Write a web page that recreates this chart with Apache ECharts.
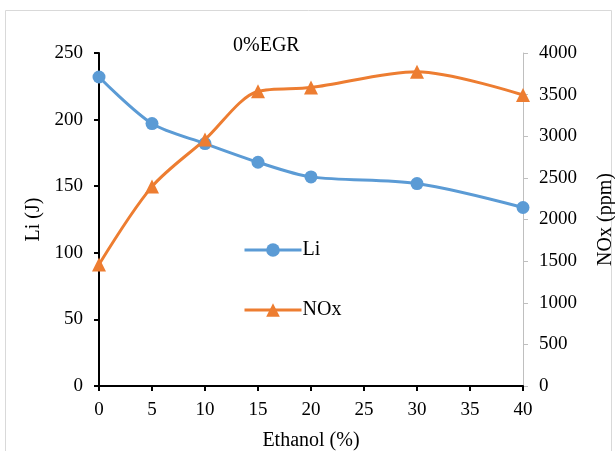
<!DOCTYPE html>
<html><head><meta charset="utf-8">
<script src="https://cdn.jsdelivr.net/npm/echarts@6/dist/echarts.min.js"></script>
<style>html,body{margin:0;padding:0;background:#fff}#c{width:615px;height:451px}</style>
</head><body><div id="c"></div>
<script>
const ethanol = [0, 5, 10, 15, 20, 30, 40];
const li = [232, 197, 182, 168, 157, 152, 134];
const nox = [1460, 2395, 2960, 3540, 3585, 3775, 3495];
const liTicks = [0, 50, 100, 150, 200, 250];
const noxTicks = [0, 500, 1000, 1500, 2000, 2500, 3000, 3500, 4000];

const font = '"Liberation Serif", "Times New Roman", serif';
const FS = 19;
const chart = echarts.init(document.getElementById('c'), null, {renderer: 'canvas'});
chart.setOption({
  animation: false,
  backgroundColor: '#fff',
  textStyle: {fontFamily: font, color: '#000'},
  graphic: [{type: 'rect', shape: {x: 5.5, y: 10.5, width: 606, height: 450}, style: {fill: 'none', stroke: '#d9d9d9', lineWidth: 1}, z: -1}],
  title: {text: '0%EGR', left: 228, top: 31, textStyle: {fontFamily: font, fontSize: 20, fontWeight: 'normal', color: '#000'}},
  grid: {left: 99, right: 92, top: 53, bottom: 65, containLabel: false, outerBoundsMode: 'none'},
  legend: {
    orient: 'vertical', left: 238, top: 235, itemGap: 40, itemWidth: 57, itemHeight: 17,
    textStyle: {fontFamily: font, fontSize: 20, color: '#000', padding: [0, 0, 0, -4]},
    lineStyle: {width: 3},
    data: ['Li', 'NOx']
  },
  xAxis: {
    type: 'value', min: 0, max: 40, interval: 5,
    name: 'Ethanol (%)', nameLocation: 'middle', nameGap: 45,
    nameTextStyle: {fontFamily: font, fontSize: 20, color: '#000'},
    axisLine: {lineStyle: {color: '#000', width: 2}},
    axisTick: {show: true, length: 5, lineStyle: {color: '#000', width: 2}},
    axisLabel: {fontFamily: font, fontSize: FS, color: '#000', margin: 15, formatter: v => String(v)},
    splitLine: {show: false}
  },
  yAxis: [{
    type: 'value', min: 0, max: 250, interval: 50,
    name: 'Li (J)', nameLocation: 'middle', nameGap: 54, nameRotate: 90,
    nameTextStyle: {fontFamily: font, fontSize: 20, color: '#000'},
    axisLine: {show: true, lineStyle: {color: '#000', width: 2}},
    axisTick: {show: true, length: 5, lineStyle: {color: '#000', width: 2}},
    axisLabel: {fontFamily: font, fontSize: FS, color: '#000', margin: 16, formatter: v => String(v)},
    splitLine: {show: false}
  }, {
    type: 'value', min: 0, max: 4000, interval: 500, position: 'right',
    name: 'NOx (ppm)', nameLocation: 'middle', nameGap: 73, nameRotate: 90,
    nameTextStyle: {fontFamily: font, fontSize: 20, color: '#000'},
    axisLine: {show: true, lineStyle: {color: '#bfbfbf', width: 1}},
    axisTick: {show: true, length: 5, lineStyle: {color: '#bfbfbf', width: 1}},
    axisLabel: {fontFamily: font, fontSize: FS, color: '#000', margin: 16, formatter: v => String(v)},
    splitLine: {show: false}
  }],
  series: [{
    name: 'Li', type: 'line', yAxisIndex: 0, smooth: 0.3,
    data: ethanol.map((x, i) => [x, li[i]]),
    symbol: 'circle', symbolSize: 13,
    lineStyle: {color: '#5b9bd5', width: 3}, itemStyle: {color: '#5b9bd5'}
  }, {
    name: 'NOx', type: 'line', yAxisIndex: 1, smooth: 0.3,
    data: ethanol.map((x, i) => [x, nox[i]]),
    symbol: 'triangle', symbolSize: 14,
    lineStyle: {color: '#ed7d31', width: 3}, itemStyle: {color: '#ed7d31'}
  }]
});
</script></body></html>
